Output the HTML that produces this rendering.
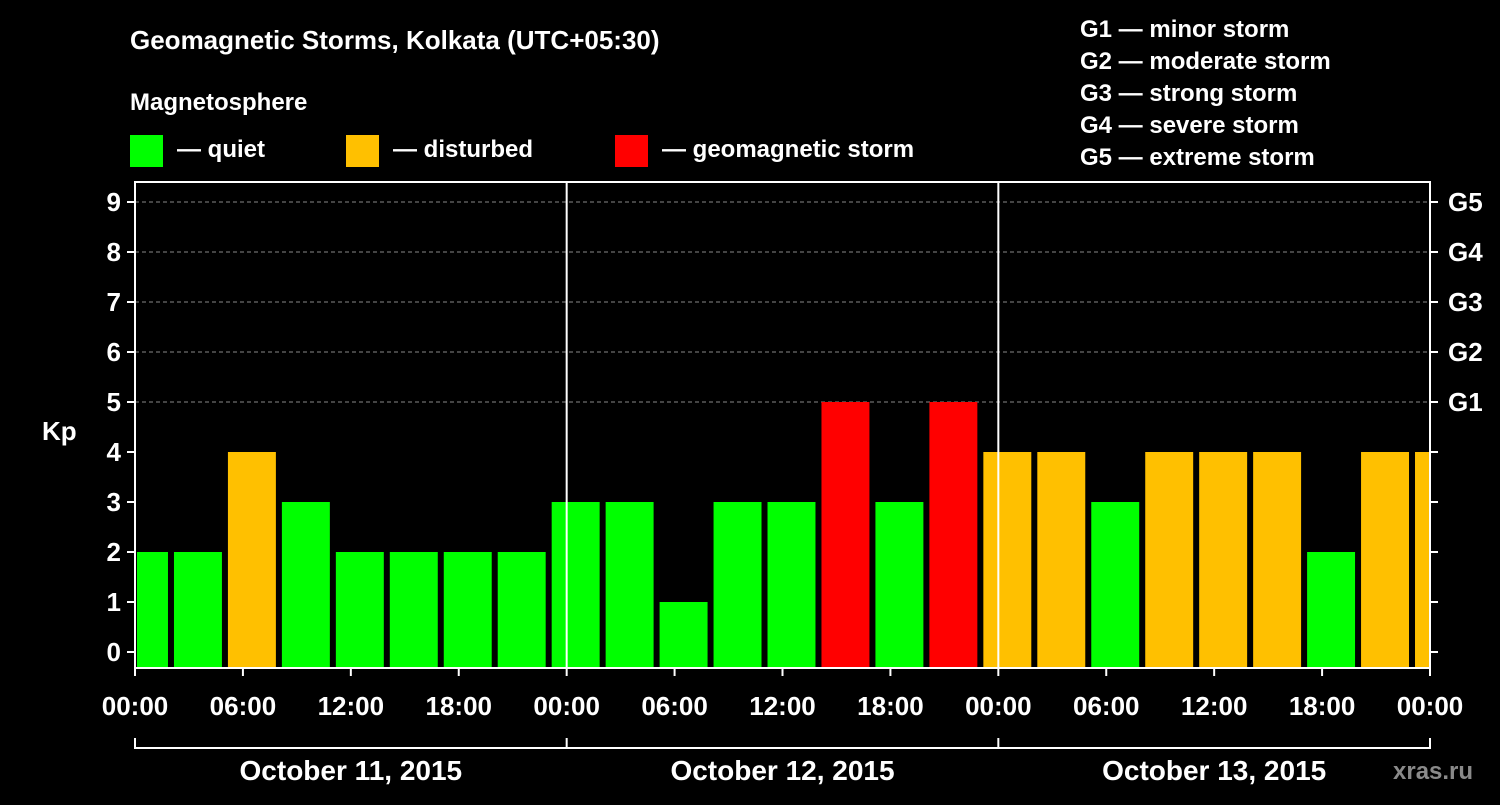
<!DOCTYPE html>
<html><head><meta charset="utf-8"><style>
body{margin:0;background:#000;width:1500px;height:800px;overflow:hidden}
svg text{font-family:"Liberation Sans",sans-serif;font-weight:bold;fill:#fff}
</style></head><body>
<svg id="chart" width="1500" height="800" xmlns="http://www.w3.org/2000/svg">
<rect width="1500" height="800" fill="#000"/>
<text x="130" y="49" font-size="26">Geomagnetic Storms, Kolkata (UTC+05:30)</text>
<text x="130" y="110" font-size="24">Magnetosphere</text>
<g><rect x="130" y="135" width="33" height="32" fill="#00ff00"/><text x="177" y="157" font-size="24">— quiet</text></g>
<g><rect x="346" y="135" width="33" height="32" fill="#ffc000"/><text x="393" y="157" font-size="24">— disturbed</text></g>
<g><rect x="615" y="135" width="33" height="32" fill="#ff0000"/><text x="662" y="157" font-size="24">— geomagnetic storm</text></g>
<g font-size="24">
<text x="1080" y="37">G1 — minor storm</text>
<text x="1080" y="69">G2 — moderate storm</text>
<text x="1080" y="101">G3 — strong storm</text>
<text x="1080" y="133">G4 — severe storm</text>
<text x="1080" y="165">G5 — extreme storm</text>
</g>
<text x="42" y="440" font-size="26">Kp</text>
<text x="1393" y="779" font-size="24" fill="#888" style="fill:#8a8a8a">xras.ru</text>
<g id="grid"></g><g id="bars"></g><g id="axes"></g>
</svg>
<script>
const kpValues=[2,2,4,3,2,2,2,2,3,3,1,3,3,5,3,5,4,4,3,4,4,4,2,4,4];
const yTicks=[0,1,2,3,4,5,6,7,8,9];
const gLabels=["G1","G2","G3","G4","G5"];
const xTickLabels=["00:00","06:00","12:00","18:00","00:00","06:00","12:00","18:00","00:00","06:00","12:00","18:00","00:00"];
const dayLabels=["October 11, 2015","October 12, 2015","October 13, 2015"];
const firstBarHours=2; // first partial bar length (hours)
const barHours=3;

const L=135,R=1430,T=182,B=668;
const hourPx=(R-L)/72;
const X=h=>L+h*hourPx;
const Y=v=>652-50*v;
const NS="http://www.w3.org/2000/svg";
function mk(tag,attrs,parent){const e=document.createElementNS(NS,tag);for(const k in attrs)e.setAttribute(k,attrs[k]);parent.appendChild(e);return e;}
const grid=document.getElementById('grid'),bars=document.getElementById('bars'),axes=document.getElementById('axes');

// dashed grid for G levels
for(let v=5;v<=9;v++){
  const l=mk('line',{x1:L,x2:R,y1:Y(v),y2:Y(v),stroke:'#888','stroke-dasharray':'4,3','stroke-width':1},grid);
  
  
}
// bars
kpValues.forEach((v,i)=>{
  let h0=i===0?0:firstBarHours+(i-1)*barHours;
  let h1=i===0?firstBarHours:h0+barHours;
  h1=Math.min(h1,72);
  let x0=X(h0)+(i===0?2:3), x1=X(h1)-(h1>=72?0:3);
  const col=v>=5?'#ff0000':(v>=4?'#ffc000':'#00ff00');
  const r=mk('rect',{x:x0,y:Y(v),width:Math.max(0,x1-x0),height:B-Y(v),fill:col},bars);
  
  
});
// frame
const f=mk('rect',{x:L,y:T,width:R-L,height:B-T,fill:'none',stroke:'#fff','stroke-width':2},axes);


// day separators
[24,48].forEach(h=>{
  const l=mk('line',{x1:X(h),x2:X(h),y1:T,y2:B,stroke:'#fff','stroke-width':2},axes);
  
  
});
// y ticks
yTicks.forEach(v=>{
  mk('line',{x1:L-8,x2:L,y1:Y(v),y2:Y(v),stroke:'#fff','stroke-width':2},axes);
  mk('line',{x1:R,x2:R+8,y1:Y(v),y2:Y(v),stroke:'#fff','stroke-width':2},axes);
  const t=mk('text',{x:L-14,y:Y(v)+9,'font-size':26,'text-anchor':'end'},axes);
  t.textContent=v;
  
  
});
gLabels.forEach((g,i)=>{
  const t=mk('text',{x:R+18,y:Y(5+i)+9,'font-size':26},axes);
  t.textContent=g;
  
  
});
// x ticks
xTickLabels.forEach((s,i)=>{
  const x=X(i*6);
  mk('line',{x1:x,x2:x,y1:B,y2:B+8,stroke:'#fff','stroke-width':2},axes);
  const t=mk('text',{x:x,y:715,'font-size':26,'text-anchor':'middle'},axes);
  t.textContent=s;
  
  
});
// date bracket
mk('line',{x1:L,x2:R,y1:748,y2:748,stroke:'#fff','stroke-width':2},axes);
[0,24,48,72].forEach(h=>mk('line',{x1:X(h),x2:X(h),y1:738,y2:749,stroke:'#fff','stroke-width':2},axes));
dayLabels.forEach((s,i)=>{
  const t=mk('text',{x:X(i*24+12),y:780,'font-size':28,'text-anchor':'middle'},axes);
  t.textContent=s;
  
  
});
</script>
</body></html>
